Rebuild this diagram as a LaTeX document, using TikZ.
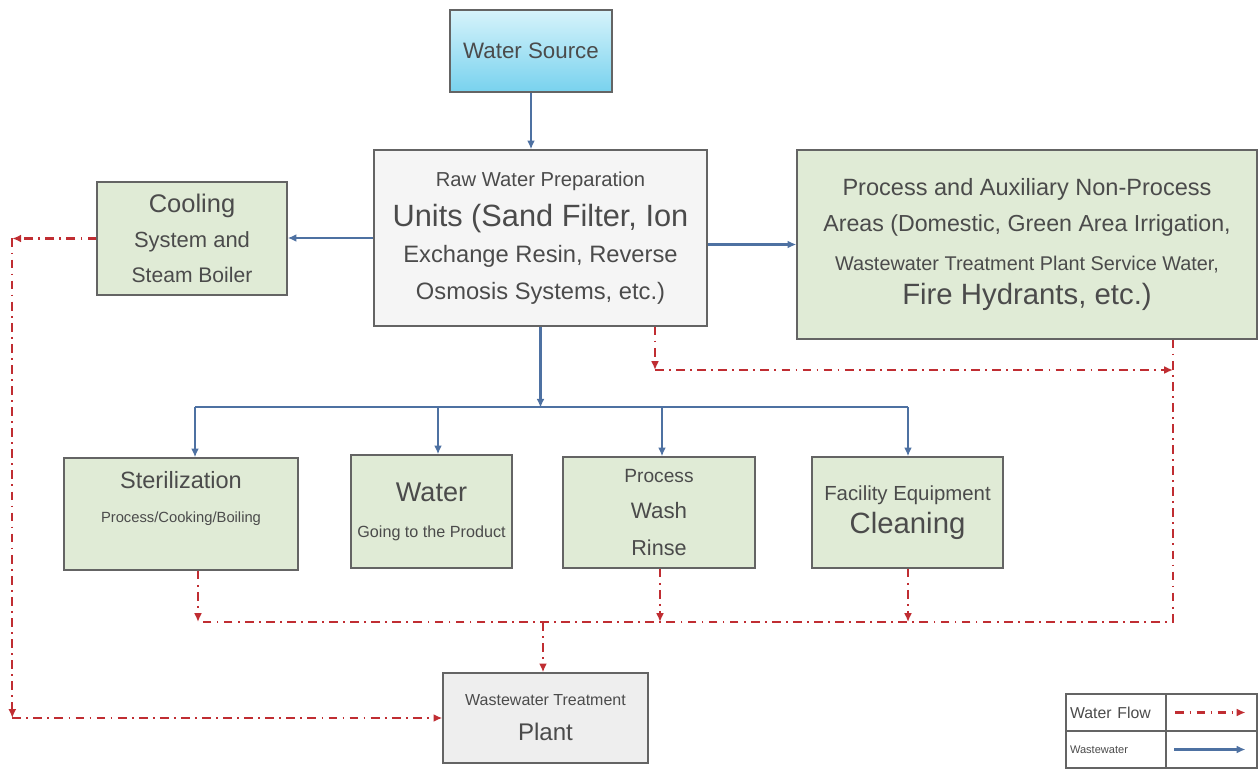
\documentclass[tikz,border=0pt]{standalone}
\usepackage{fontspec}
\setmainfont{Liberation Sans}
\usetikzlibrary{arrows.meta}

\definecolor{boxline}{RGB}{100,100,100}
\definecolor{boxgreen}{RGB}{224,235,214}
\definecolor{boxgrey}{RGB}{245,245,245}
\definecolor{plantgrey}{RGB}{238,238,238}
\definecolor{txt}{RGB}{75,75,75}
\definecolor{flowblue}{RGB}{78,113,162}
\definecolor{wastered}{RGB}{192,45,50}
\definecolor{srctop}{RGB}{214,243,251}
\definecolor{srcbot}{RGB}{120,210,238}

\newcommand{\fs}[1]{\fontsize{#1}{#1}\selectfont}

\begin{document}
\begin{tikzpicture}[x=0.02cm,y=-0.02cm]

	\tikzstyle{unit} = [rectangle,draw=boxline,line width=0.8pt,text=txt,align=center,inner sep=0pt,font=\fontsize{12}{20.5}\selectfont]
	\tikzstyle{area} = [unit,fill=boxgreen]
	\tikzstyle{prep} = [unit,fill=boxgrey]
	\tikzstyle{legcell} = [rectangle,draw=boxline,line width=0.6pt,text=txt,inner sep=0pt,minimum height=0.74cm]
	\tikzstyle{supply} = [-{Latex[length=5pt,width=4.5pt]},line width=1.3pt,draw=flowblue]
	\tikzstyle{waste} = [-{Latex[length=5pt,width=4.5pt]},line width=1.2pt,draw=wastered,dash pattern=on 5pt off 3pt on 1pt off 3pt]
	\tikzstyle{wasteline} = [waste,-]

	\useasboundingbox (0,0) rectangle (1258,770);

	% boxes
	\node[unit,top color=srctop,bottom color=srcbot,minimum width=3.24cm,minimum height=1.64cm] (src) at (531,51) {\fs{12.7}Water Source};
	\node[prep,minimum width=6.66cm,minimum height=3.52cm,font=\fontsize{12}{20.8}\selectfont] (raw) at (540.5,238)
		{\fs{11.5}Raw Water Preparation\\[2pt] \fs{17.5}Units (Sand Filter, Ion\\ \fs{13.5}Exchange Resin, Reverse\\ \fs{13.5}Osmosis Systems, etc.)};
	\node[area,minimum width=3.8cm,minimum height=2.26cm,font=\fontsize{12}{20}\selectfont] (cool) at (192,238.5)
		{\fs{14.5}Cooling\\ \fs{12.5}System and\\ \fs{12}Steam Boiler};
	\node[area,minimum width=9.2cm,minimum height=3.78cm,font=\fontsize{12}{20}\selectfont] (aux) at (1027,244.5)
		{\fs{13.4}Process and Auxiliary Non-Process\\ \fs{13.2}Areas (Domestic, Green Area Irrigation,\\[2.7pt] \fs{11.3}Wastewater Treatment Plant Service Water,\\[-1.2pt] \fs{16.7}Fire Hydrants, etc.)};

	\node[area,minimum width=4.68cm,minimum height=2.24cm,font=\fontsize{12}{19.4}\selectfont] (ster) at (181,514)
		{\fs{13.4}Sterilization\\ \fs{8.4}Process/Cooking/Boiling\\ \mbox{}};
	\node[area,minimum width=3.22cm,minimum height=2.26cm] (wat) at (431.5,511.5)
		{\fs{15.4}Water\\ \fs{9.2}Going to the Product};
	\node[area,minimum width=3.84cm,minimum height=2.22cm] (proc) at (659,512.5)
		{\fs{10.9}Process\\ \fs{12.7}Wash\\ \fs{12.3}Rinse};
	\node[area,minimum width=3.82cm,minimum height=2.22cm,font=\fontsize{12}{19}\selectfont] (fac) at (907.5,512.5)
		{\fs{11.6}Facility Equipment\\ \fs{16.7}Cleaning};
	\node[unit,fill=plantgrey,minimum width=4.1cm,minimum height=1.8cm,font=\fontsize{12}{20}\selectfont] (wwtp) at (545.5,718)
		{\fs{9.1}Wastewater Treatment\\ \fs{13.7}Plant};

	% legend
	\node[legcell,minimum width=2cm,text width=1.84cm,align=left,inner xsep=0.08cm] (lg1) at (1116,712.5) {\fs{9}Water Flow};
	\node[legcell,minimum width=2cm,text width=1.84cm,align=left,inner xsep=0.08cm] (lg2) at (1116,749.5) {\fs{6.3}Wastewater};
	\node[legcell,minimum width=1.82cm] (lk1) at (1211.5,712.5) {};
	\node[legcell,minimum width=1.82cm] (lk2) at (1211.5,749.5) {};
	\draw[waste] ([xshift=0.2cm]lk1.west) -- ([xshift=-0.24cm]lk1.east);
	\draw[supply] ([xshift=0.18cm]lk2.west) -- ([xshift=-0.24cm]lk2.east);

	% water supply
	\path (raw.south) ++(0,81) coordinate (bus);
	\coordinate (b1) at (195,407);
	\coordinate (b2) at (438,407);
	\coordinate (b3) at (662,407);
	\coordinate (b4) at (908,407);

	\draw[supply] (src) -- (src |- raw.north);
	\draw[supply] (raw) -- (raw.west -| cool.east);
	\draw[supply] (raw.east |- aux.west) -- (aux.west);
	\draw[supply] (raw.south) -- (bus);
	\draw[supply,-] (b1) -- (b4);
	\foreach \b/\n in {b1/ster,b2/wat,b3/proc,b4/fac}
		\draw[supply] (\b) -- (\b |- \n.north);

	% wastewater
	\coordinate (r1) at (655,370);
	\coordinate (r2) at (1173,370);
	\coordinate (r3) at (1173,622);
	\coordinate (r4) at (198,622);
	\coordinate (rj) at (543,622);
	\coordinate (s2) at (660,622);
	\coordinate (s3) at (908,622);
	\path (cool.west) ++(-84,0) coordinate (c1);

	\draw[waste] (raw.south -| r1) -- (r1);
	\draw[waste] (r1) -- (r2);
	\draw[wasteline] (aux.south -| r2) -- (r3) -- (r4);
	\foreach \s/\n in {r4/ster,s2/proc,s3/fac}
		\draw[waste] (\s |- \n.south) -- (\s);
	\draw[waste] (rj) -- (rj |- wwtp.north);
	\draw[waste] (cool) -- (c1);
	\draw[waste] (c1) -- (c1 |- wwtp.west);
	\draw[waste] (c1 |- wwtp.west) -- (wwtp.west);

\end{tikzpicture}
\end{document}
